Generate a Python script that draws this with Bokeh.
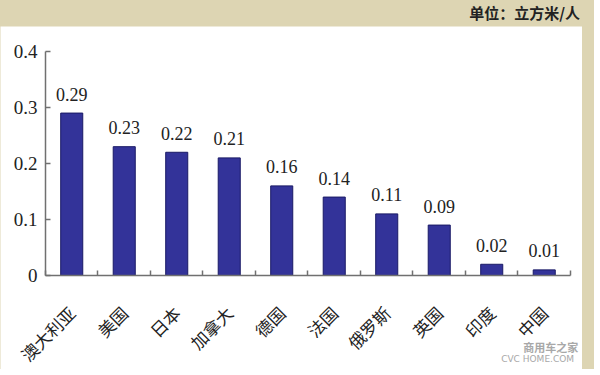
from math import pi
from bokeh.plotting import figure
from bokeh.models import FixedTicker, Div, Label, ColumnDataSource, Range1d
from bokeh.layouts import column
from bokeh.core.properties import value
from bokeh.embed import file_html
from bokeh.resources import INLINE

countries = ["澳大利亚", "美国", "日本", "加拿大", "德国", "法国", "俄罗斯", "英国", "印度", "中国"]
values = [0.29, 0.23, 0.22, 0.21, 0.16, 0.14, 0.11, 0.09, 0.02, 0.01]
y_ticks = [0, 0.1, 0.2, 0.3, 0.4]
y_tick_labels = ["0", "0.1", "0.2", "0.3", "0.4"]
unit_label = "单位：立方米/人"
watermark_cn = "商用车之家"
watermark_en = "CVC HOME.COM"

BEIGE = "#ddd5b3"
BAR = "#333399"

centers = [i + 0.5 for i in range(len(countries))]
boundaries = list(range(len(countries) + 1))
src = ColumnDataSource(dict(x=centers, top=values, lbl=[f"{v:.2f}" for v in values]))

# frame spans the whole figure; axes are pinned at x=0 / y=0
p = figure(width=582, height=343, output_backend="svg", toolbar_location=None,
           x_range=Range1d(-0.857, 10.229), y_range=Range1d(-0.1679, 0.4446),
           min_border_left=0, min_border_right=0, min_border_top=0, min_border_bottom=0)
p.background_fill_color = "white"
p.border_fill_color = "white"
p.outline_line_color = None
p.grid.visible = False

p.vbar(x="x", top="top", bottom=0, width=0.42, source=src,
       fill_color=BAR, line_color="#1a1a66", line_width=1)
p.text(x="x", y="top", text="lbl", source=src, y_offset=-19,
       text_align="center", text_baseline="alphabetic",
       text_font=value("Liberation Serif"), text_font_size="18px", text_color="#222222")

for ax in (p.xaxis[0], p.yaxis[0]):
    ax.axis_line_color = "#707070"
    ax.axis_line_width = 1.5
    ax.major_tick_line_color = "#707070"
    ax.minor_tick_line_color = "#707070"
    ax.major_tick_line_width = 1.5
    ax.minor_tick_line_width = 1.5

xa = p.xaxis[0]
xa.fixed_location = 0
xa.bounds = (0, len(countries))
xa.ticker = FixedTicker(ticks=centers, minor_ticks=boundaries)
xa.major_label_overrides = {c: n for c, n in zip(centers, countries)}
xa.major_tick_in = 0
xa.major_tick_out = 0
xa.minor_tick_in = 5
xa.minor_tick_out = 0
xa.major_label_orientation = pi / 4
xa.major_label_standoff = 34
xa.major_label_text_font = "Noto Sans CJK SC"
xa.major_label_text_font_size = "17px"
xa.major_label_text_color = "#222222"

ya = p.yaxis[0]
ya.fixed_location = 0
ya.bounds = (0, 0.4)
ya.ticker = FixedTicker(ticks=y_ticks, minor_ticks=[])
ya.major_label_overrides = {t: s for t, s in zip(y_ticks, y_tick_labels)}
ya.major_tick_in = 5
ya.major_tick_out = 0
ya.minor_tick_in = 0
ya.minor_tick_out = 0
ya.major_label_standoff = 8
ya.major_label_text_font = "Liberation Serif"
ya.major_label_text_font_size = "19px"
ya.major_label_text_color = "#222222"

p.add_layout(Label(x=9.1, y=-0.128, text=watermark_cn, text_font="Noto Sans CJK SC",
                   text_font_size="11px", text_font_style="bold", text_color="#a8a8a8",
                   text_baseline="middle"))
p.add_layout(Label(x=8.68, y=-0.149, text=watermark_en, text_font="DejaVu Sans",
                   text_font_size="9px", text_color="#a8a8a8",
                   text_baseline="middle"))

div = Div(text=f'<div style="margin-top:-3px">{unit_label}</div>', width=584, height=16,
          styles={"background-color": BEIGE, "text-align": "right", "font-size": "15px",
                  "font-weight": "bold", "font-family": "Noto Sans CJK SC",
                  "color": "#222222", "padding-right": "9px", "line-height": "15px",
                  "box-sizing": "border-box", "overflow": "visible"})

layout = column(div, p, styles={"background-color": BEIGE}, spacing=0)
open("out.html", "w").write(file_html(layout, INLINE))
